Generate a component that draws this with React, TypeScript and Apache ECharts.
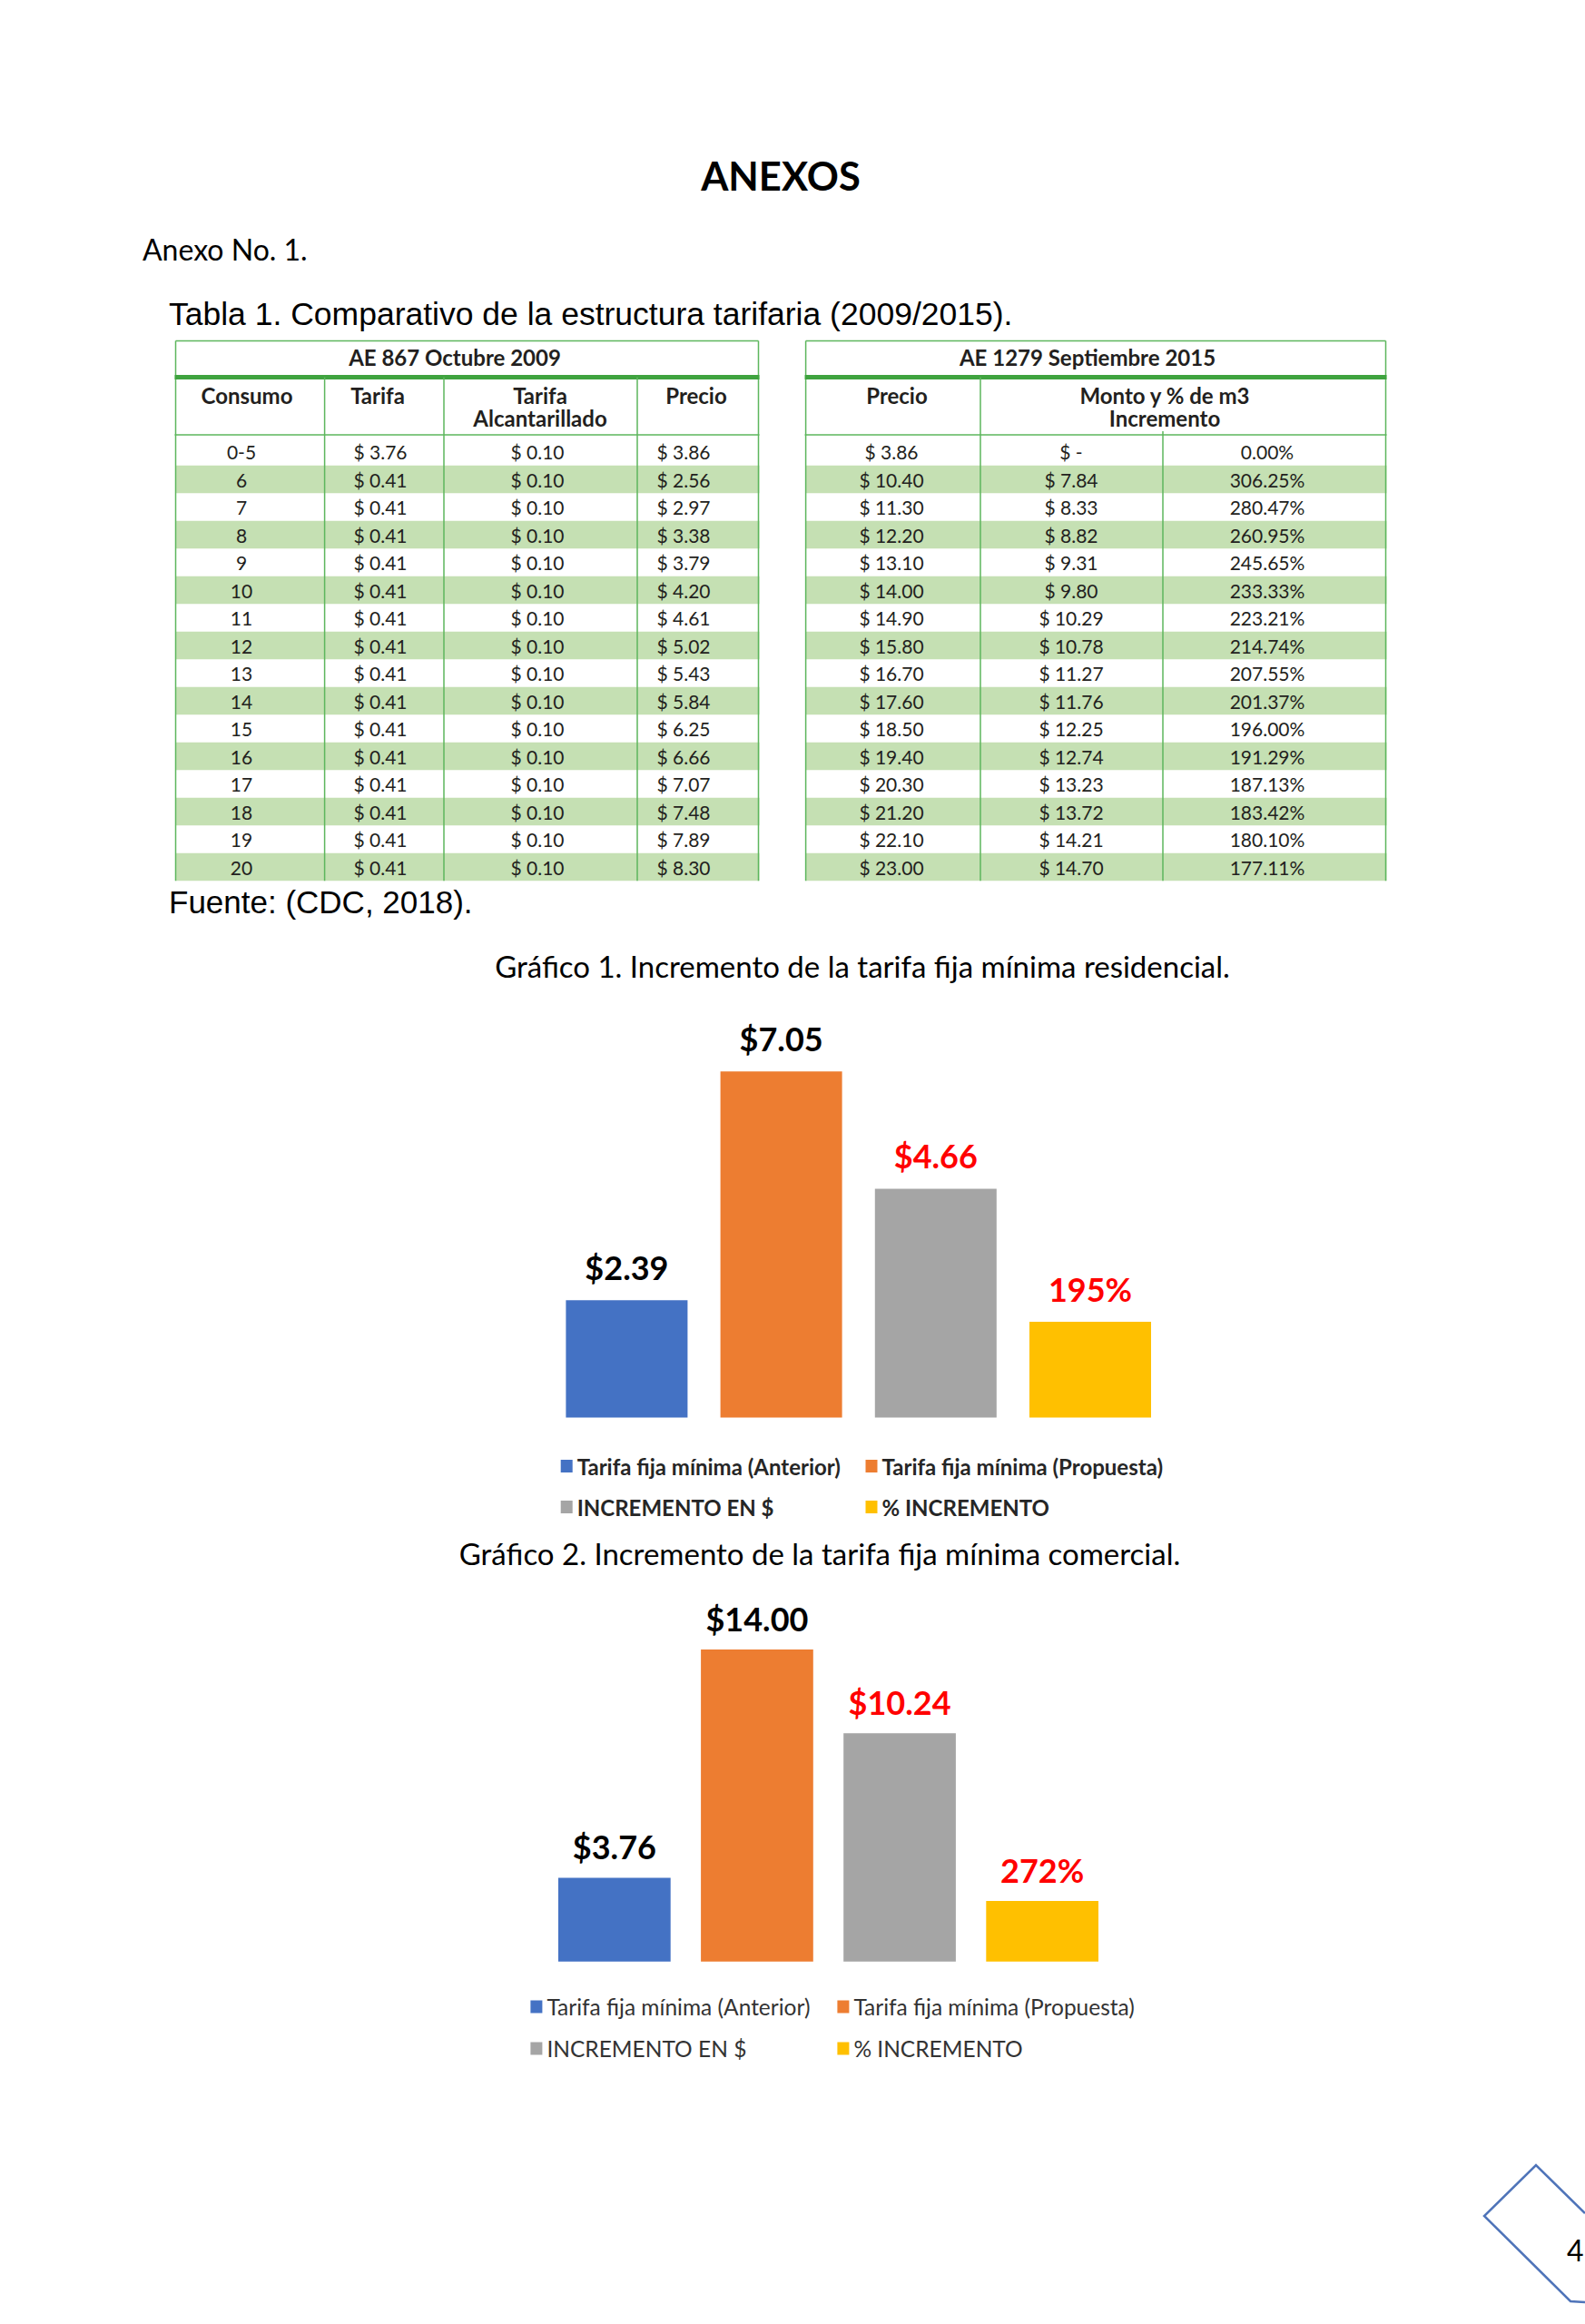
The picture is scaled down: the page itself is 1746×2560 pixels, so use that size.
import React, { useEffect, useRef } from "react";
import * as echarts from "echarts";

// ---------- Table data (Tabla 1) ----------
const consumo = ["0-5", "6", "7", "8", "9", "10", "11", "12", "13", "14", "15", "16", "17", "18", "19", "20"];
const tarifa2009 = ["$ 3.76", "$ 0.41", "$ 0.41", "$ 0.41", "$ 0.41", "$ 0.41", "$ 0.41", "$ 0.41", "$ 0.41", "$ 0.41", "$ 0.41", "$ 0.41", "$ 0.41", "$ 0.41", "$ 0.41", "$ 0.41"];
const alcantarillado2009 = ["$ 0.10", "$ 0.10", "$ 0.10", "$ 0.10", "$ 0.10", "$ 0.10", "$ 0.10", "$ 0.10", "$ 0.10", "$ 0.10", "$ 0.10", "$ 0.10", "$ 0.10", "$ 0.10", "$ 0.10", "$ 0.10"];
const precio2009 = ["$ 3.86", "$ 2.56", "$ 2.97", "$ 3.38", "$ 3.79", "$ 4.20", "$ 4.61", "$ 5.02", "$ 5.43", "$ 5.84", "$ 6.25", "$ 6.66", "$ 7.07", "$ 7.48", "$ 7.89", "$ 8.30"];
const precio2015 = ["$ 3.86", "$ 10.40", "$ 11.30", "$ 12.20", "$ 13.10", "$ 14.00", "$ 14.90", "$ 15.80", "$ 16.70", "$ 17.60", "$ 18.50", "$ 19.40", "$ 20.30", "$ 21.20", "$ 22.10", "$ 23.00"];
const monto2015 = ["$ -", "$ 7.84", "$ 8.33", "$ 8.82", "$ 9.31", "$ 9.80", "$ 10.29", "$ 10.78", "$ 11.27", "$ 11.76", "$ 12.25", "$ 12.74", "$ 13.23", "$ 13.72", "$ 14.21", "$ 14.70"];
const porcentaje2015 = ["0.00%", "306.25%", "280.47%", "260.95%", "245.65%", "233.33%", "223.21%", "214.74%", "207.55%", "201.37%", "196.00%", "191.29%", "187.13%", "183.42%", "180.10%", "177.11%"];

// ---------- Chart data ----------
const seriesNames = ["Tarifa fija mínima (Anterior)", "Tarifa fija mínima (Propuesta)", "INCREMENTO EN $", "% INCREMENTO"];
const residencialValues = [2.39, 7.05, 4.66, 1.95]; // last value = 195 %
const comercialValues = [3.76, 14.0, 10.24, 2.72]; // last value = 272 %
const valueKinds = ["money", "money", "money", "percent"];

// ---------- Styles ----------
const barColors = ["#4472C4", "#ED7D31", "#A5A5A5", "#FFC000"];
const labelColors = ["#000000", "#000000", "#FF0000", "#FF0000"];
const CAL = "Lato, 'Noto Sans', sans-serif";
const ARIAL = "'Liberation Sans', Arial, sans-serif";
const TXT = "#231F20";
const GREEN_LINE = "#5DB65D";
const GREEN_THICK = "#3FA33F";
const GREEN_BAND = "#C5E0B3";

function fmt(v: number, kind: string) {
  return kind === "percent" ? Math.round(v * 100) + "%" : "$" + v.toFixed(2);
}

function text(x: number, y: number, s: string, size: number, o: any = {}) {
  return {
    type: "text",
    z: 10,
    silent: true,
    style: {
      x,
      y,
      text: s,
      fontSize: size,
      fontFamily: o.family || CAL,
      fontWeight: o.weight || "normal",
      fill: o.fill || "#000",
      align: o.align || "center",
      verticalAlign: "middle",
    },
  };
}
function line(x1: number, y1: number, x2: number, y2: number, color: string, w: number) {
  return { type: "line", z: 5, silent: true, shape: { x1, y1, x2, y2 }, style: { stroke: color, lineWidth: w } };
}
function rect(x: number, y: number, w: number, h: number, fill: string) {
  return { type: "rect", z: 1, silent: true, shape: { x, y, width: w, height: h }, style: { fill } };
}

const TOP = 375.5;
const THICK_Y = 415.5;
const HEAD_BOTTOM = 479;
const ROW0 = 497.5;
const ROWH = 30.5;
const TABLE_BOTTOM = ROW0 + ROWH * 15 + ROWH / 2;

function buildTable(cfg: any) {
  const els: any[] = [];
  const n = cfg.cols[0].length;
  for (let i = 0; i < n; i++) {
    if (i % 2 === 1) els.push(rect(cfg.left, ROW0 + ROWH * i - ROWH / 2, cfg.right - cfg.left + 1, ROWH, GREEN_BAND));
  }
  els.push(line(cfg.left, TOP, cfg.right, TOP, GREEN_LINE, 1.5));
  els.push(line(cfg.left, TOP, cfg.left, TABLE_BOTTOM, GREEN_LINE, 1.5));
  els.push(line(cfg.right, TOP, cfg.right, TABLE_BOTTOM, GREEN_LINE, 1.5));
  els.push(line(cfg.left - 1, THICK_Y, cfg.right + 1, THICK_Y, GREEN_THICK, 5));
  els.push(line(cfg.left - 1, HEAD_BOTTOM, cfg.right + 1, HEAD_BOTTOM, GREEN_LINE, 1.5));
  cfg.seps.forEach((s: any) => els.push(line(s.x, s.y1, s.x, TABLE_BOTTOM, GREEN_LINE, 1.5)));
  els.push(text(cfg.titleX, 393, cfg.title, 24, { weight: "bold", fill: TXT }));
  cfg.headers.forEach((h: any) => {
    h.lines.forEach((l: string, k: number) => els.push(text(h.x, 435 + 25 * k, l, 24, { weight: "bold", fill: TXT })));
  });
  cfg.cols.forEach((col: string[], c: number) => {
    col.forEach((v, i) => els.push(text(cfg.colX[c], ROW0 + ROWH * i, v, 21, { fill: TXT })));
  });
  return els;
}

export default function App() {
  const ref = useRef<HTMLDivElement>(null);
  useEffect(() => {
    document.body.style.margin = "0";
    const chart = echarts.init(ref.current!, null, { renderer: "svg" });

    const graphics: any[] = [];
    graphics.push(text(860, 193, "ANEXOS", 43.5, { weight: "bold" }));
    graphics.push(text(157, 274, "Anexo No. 1.", 32, { align: "left" }));
    graphics.push(text(186, 346, "Tabla 1. Comparativo de la estructura tarifaria (2009/2015).", 35.5, { align: "left", family: ARIAL }));
    graphics.push(
      ...buildTable({
        left: 193.5,
        right: 835.5,
        titleX: 501,
        title: "AE 867 Octubre 2009",
        headers: [
          { x: 272, lines: ["Consumo"] },
          { x: 416, lines: ["Tarifa"] },
          { x: 595, lines: ["Tarifa", "Alcantarillado"] },
          { x: 767, lines: ["Precio"] },
        ],
        seps: [
          { x: 357.6, y1: THICK_Y },
          { x: 489, y1: THICK_Y },
          { x: 702, y1: THICK_Y },
        ],
        cols: [consumo, tarifa2009, alcantarillado2009, precio2009],
        colX: [266, 419, 592, 753],
      })
    );
    graphics.push(
      ...buildTable({
        left: 887.6,
        right: 1526.5,
        titleX: 1198,
        title: "AE 1279 Septiembre 2015",
        headers: [
          { x: 988, lines: ["Precio"] },
          { x: 1283, lines: ["Monto y % de m3", "Incremento"] },
        ],
        seps: [
          { x: 1080, y1: THICK_Y },
          { x: 1281, y1: 475 },
        ],
        cols: [precio2015, monto2015, porcentaje2015],
        colX: [982, 1180, 1396],
      })
    );
    graphics.push(text(186, 993, "Fuente: (CDC, 2018).", 35, { align: "left", family: ARIAL }));
    graphics.push(text(950, 1063.5, "Gráfico 1. Incremento de la tarifa fija mínima residencial.", 33));
    graphics.push(text(903, 1710.5, "Gráfico 2. Incremento de la tarifa fija mínima comercial.", 33));
    graphics.push({
      type: "polyline",
      z: 5,
      silent: true,
      shape: { points: [[1746, 2438], [1692, 2385], [1635, 2441], [1730, 2535], [1746, 2536]] },
      style: { stroke: "#4F74B9", lineWidth: 2.5, fill: null },
    });
    graphics.push(text(1726, 2478, "4", 32, { align: "left" }));

    const mkSeries = (values: number[], idx: number, fontSize: number, distance: number) =>
      values.map((v, i) => ({
        type: "bar",
        name: seriesNames[i],
        xAxisIndex: idx,
        yAxisIndex: idx,
        data: [v],
        barGap: "27%",
        barCategoryGap: "0%",
        itemStyle: { color: barColors[i] },
        label: {
          show: true,
          position: "top",
          distance,
          formatter: () => fmt(v, valueKinds[i]),
          color: labelColors[i],
          fontFamily: CAL,
          fontWeight: "bold",
          fontSize,
        },
      }));

    const legend = (left: number, top: number, names: string[], bold: boolean, size: number, gap: number, color: string) => ({
      orient: "vertical",
      left,
      top,
      padding: 0,
      itemGap: gap,
      itemWidth: 13,
      itemHeight: 14,
      icon: "rect",
      selectedMode: false,
      data: names,
      textStyle: { fontFamily: CAL, fontWeight: bold ? "bold" : "normal", fontSize: size, color, lineHeight: 26 },
    });

    chart.setOption({
      animation: false,
      backgroundColor: "#ffffff",
      grid: [
        { left: 623.4, top: 1128.8, width: 644.6, height: 432.6 },
        { left: 615, top: 1767.9, width: 595, height: 392.8 },
      ],
      xAxis: [
        { type: "category", gridIndex: 0, data: [""], show: false },
        { type: "category", gridIndex: 1, data: [""], show: false },
      ],
      yAxis: [
        { type: "value", gridIndex: 0, min: 0, max: 8, show: false },
        { type: "value", gridIndex: 1, min: 0, max: 16, show: false },
      ],
      legend: [
        legend(617.7, 1602, [seriesNames[0], seriesNames[2]], true, 24, 19, "#262626"),
        legend(953.5, 1602, [seriesNames[1], seriesNames[3]], true, 24, 19, "#262626"),
        legend(584.4, 2197.5, [seriesNames[0], seriesNames[2]], false, 24.5, 20, "#333333"),
        legend(922.4, 2197.5, [seriesNames[1], seriesNames[3]], false, 24.5, 20, "#333333"),
      ],
      series: [...mkSeries(residencialValues, 0, 36, 18), ...mkSeries(comercialValues, 1, 36, 16)],
      graphic: { elements: graphics },
    });
    return () => chart.dispose();
  }, []);
  return <div ref={ref} style={{ width: 1746, height: 2560 }} />;
}
